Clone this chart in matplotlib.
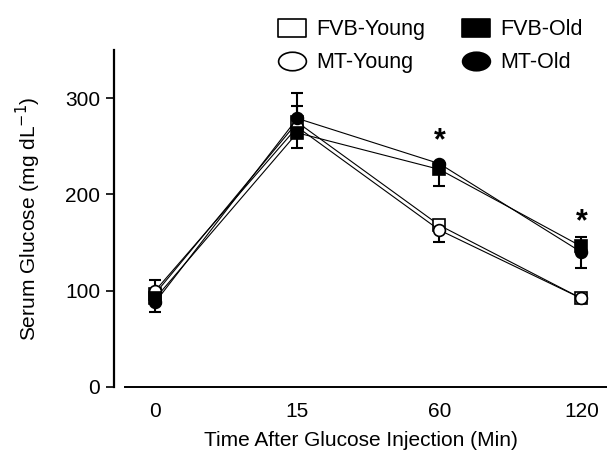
import numpy as np
import matplotlib
matplotlib.use('Agg')
import matplotlib.pyplot as plt
from matplotlib.path import Path
from matplotlib.transforms import Affine2D
from matplotlib.lines import Line2D

plt.rcParams['font.family'] = ['Liberation Sans', 'DejaVu Sans']

# time points (categorical positions)
times = ['0', '15', '60', '120']

# group means (mg/dL)
fvb_young = [97, 275, 168, 92]
mt_young = [100, 270, 163, 92]
fvb_old = [92, 264, 226, 146]
mt_old = [88, 279, 232, 140]

# visible error bars (lower, upper)
fvb_young_err = [[0, 0, 0, 0], [0, 17, 0, 0]]
mt_young_err = [[0, 0, 12, 0], [11, 0, 0, 0]]
fvb_old_err = [[0, 16, 17, 0], [0, 0, 0, 10]]
mt_old_err = [[10, 0, 0, 16], [0, 26, 0, 0]]

# significance markers
sig_idx = [2, 3]
sig_y = [255, 171]

fig = plt.figure(figsize=(6.07, 4.62), dpi=100)
ax = fig.add_axes([114/607, 1 - 387/462, 1 - 114/607, (387 - 50)/462])

x = np.arange(len(times))

series = [
    ('FVB-Young', fvb_young, fvb_young_err, 's', 'white'),
    ('MT-Young', mt_young, mt_young_err, 'o', 'white'),
    ('FVB-Old', fvb_old, fvb_old_err, 's', 'black'),
    ('MT-Old', mt_old, mt_old_err, 'o', 'black'),
]

for name, y, err, mk, fc in series:
    ax.errorbar(x, y, yerr=err, fmt='none', ecolor='black', elinewidth=1.5,
                capsize=4, capthick=1.5, zorder=2)
    ax.plot(x, y, color='black', lw=0.8, marker=mk, markersize=8.5,
            markerfacecolor=fc, markeredgecolor='black', markeredgewidth=1.2,
            zorder=3)

for i, ys in zip(sig_idx, sig_y):
    ax.text(x[i], ys, '*', ha='center', va='center', fontsize=22,
            fontweight='bold')

ax.set_xlim(-0.29, 3.18)
ax.set_ylim(0, 350)
ax.set_yticks([0, 100, 200, 300])
ax.set_xticks(x)
ax.set_xticklabels(times)
ax.tick_params(axis='y', direction='out', length=6, width=1.2, labelsize=15, pad=4)
ax.tick_params(axis='x', length=0, labelsize=15, pad=11)

for s in ['top', 'right']:
    ax.spines[s].set_visible(False)
ax.spines['left'].set_linewidth(1.6)
ax.spines['left'].set_bounds(0, 350)
ax.spines['bottom'].set_linewidth(1.4)
ax.spines['bottom'].set_bounds(-0.21, 3.18)

ax.set_ylabel('Serum Glucose (mg dL$^{-1}$)', fontsize=15, labelpad=16)
ax.set_xlabel('Time After Glucose Injection (Min)', fontsize=15, labelpad=7)

# wide legend markers
rect = Path([(-0.75, -0.5), (0.75, -0.5), (0.75, 0.5), (-0.75, 0.5), (-0.75, -0.5)],
            closed=True)
ell = Path.unit_circle().transformed(Affine2D().scale(0.75, 0.5))

handles = [
    Line2D([], [], ls='none', marker=rect, markersize=20, mfc='white', mec='black', mew=1.2),
    Line2D([], [], ls='none', marker=ell, markersize=20, mfc='white', mec='black', mew=1.2),
    Line2D([], [], ls='none', marker=rect, markersize=20, mfc='black', mec='black', mew=1.2),
    Line2D([], [], ls='none', marker=ell, markersize=20, mfc='black', mec='black', mew=1.2),
]
labels = ['FVB-Young', 'MT-Young', 'FVB-Old', 'MT-Old']
fig.legend(handles, labels, ncol=2, loc='upper left', bbox_to_anchor=(256/607, 1.0),
           frameon=False, fontsize=15.5, handlelength=1.5, handletextpad=0.4,
           columnspacing=1.6, labelspacing=0.55)

fig.savefig('out.png', dpi=100)
